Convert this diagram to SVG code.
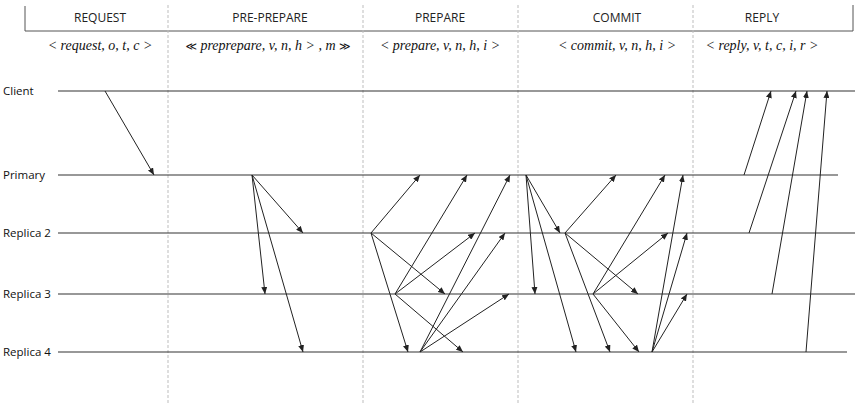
<svg xmlns="http://www.w3.org/2000/svg" width="857" height="409" viewBox="0 0 857 409">
<style>
.hdr{font-family:"Open Sans","Liberation Sans",sans-serif;font-size:12px;fill:#222;text-anchor:middle}
.fm{font-family:"Liberation Serif",serif;font-style:italic;font-size:14px;fill:#111;text-anchor:middle}
.sym{font-family:"DejaVu Sans",sans-serif;font-style:normal;font-size:11px}
.lbl{font-family:"Open Sans","Liberation Sans",sans-serif;font-size:11.5px;fill:#111}
.tl{stroke:#333;stroke-width:1.2;fill:none}
.div{stroke:#bdbdbd;stroke-width:1;stroke-dasharray:3 2;fill:none}
.frame{stroke:#555;stroke-width:1;fill:none}
.msg line{stroke:#222;stroke-width:1;marker-end:url(#ah)}
</style>
<defs>
<marker id="ah" markerUnits="userSpaceOnUse" markerWidth="7" markerHeight="6" refX="7" refY="3" orient="auto">
<path d="M0,0 L7,3 L0,6 z" fill="#222"/>
</marker>
</defs>
<rect width="857" height="409" fill="#fff"/>
<g id="header">
<path class="frame" d="M25,6 V31 H853 V5"/>
<text class="hdr" x="100" y="22">REQUEST</text>
<text class="hdr" x="270" y="22">PRE-PREPARE</text>
<text class="hdr" x="440" y="22">PREPARE</text>
<text class="hdr" x="617" y="22">COMMIT</text>
<text class="hdr" x="762" y="22">REPLY</text>
<text class="fm" x="100" y="50">&lt; request, o, t, c &gt;</text>
<text class="fm" x="268" y="50"><tspan class="sym">≪</tspan> preprepare, v, n, h &gt; , m <tspan class="sym">≫</tspan></text>
<text class="fm" x="440" y="50">&lt; prepare, v, n, h, i &gt;</text>
<text class="fm" x="617" y="50">&lt; commit, v, n, h, i &gt;</text>
<text class="fm" x="762" y="50">&lt; reply, v, t, c, i, r &gt;</text>
</g>
<g id="dividers">
<line class="div" x1="168" y1="5" x2="168" y2="404"/>
<line class="div" x1="363" y1="5" x2="363" y2="404"/>
<line class="div" x1="518" y1="5" x2="518" y2="404"/>
<line class="div" x1="693" y1="5" x2="693" y2="404"/>
</g>
<g id="client"><text class="lbl" x="3" y="95">Client</text><line class="tl" x1="58" y1="91" x2="855" y2="91"/></g>
<g id="primary"><text class="lbl" x="3" y="179">Primary</text><line class="tl" x1="58" y1="175" x2="838" y2="175"/></g>
<g id="replica2"><text class="lbl" x="3" y="237">Replica 2</text><line class="tl" x1="58" y1="233" x2="855" y2="233"/></g>
<g id="replica3"><text class="lbl" x="3" y="298">Replica 3</text><line class="tl" x1="58" y1="294" x2="855" y2="294"/></g>
<g id="replica4"><text class="lbl" x="3" y="356">Replica 4</text><line class="tl" x1="58" y1="352" x2="847" y2="352"/></g>
<g id="connectors" class="msg">
<line x1="105" y1="91" x2="154" y2="175"/>
<line x1="252" y1="175" x2="303" y2="233"/>
<line x1="252" y1="175" x2="265" y2="294"/>
<line x1="252" y1="175" x2="303" y2="352"/>
<line x1="371" y1="233" x2="420" y2="175"/>
<line x1="371" y1="233" x2="445" y2="294"/>
<line x1="371" y1="233" x2="408" y2="352"/>
<line x1="395" y1="294" x2="467" y2="175"/>
<line x1="395" y1="294" x2="475" y2="233"/>
<line x1="395" y1="294" x2="463" y2="352"/>
<line x1="420" y1="352" x2="510" y2="175"/>
<line x1="420" y1="352" x2="505" y2="233"/>
<line x1="420" y1="352" x2="509" y2="294"/>
<line x1="526" y1="175" x2="560" y2="233"/>
<line x1="526" y1="175" x2="535" y2="294"/>
<line x1="526" y1="175" x2="576" y2="352"/>
<line x1="565" y1="233" x2="616" y2="175"/>
<line x1="565" y1="233" x2="638" y2="294"/>
<line x1="565" y1="233" x2="610" y2="352"/>
<line x1="593" y1="294" x2="665" y2="175"/>
<line x1="593" y1="294" x2="668" y2="233"/>
<line x1="593" y1="294" x2="639" y2="352"/>
<line x1="652" y1="352" x2="683" y2="175"/>
<line x1="652" y1="352" x2="687" y2="233"/>
<line x1="652" y1="352" x2="687" y2="294"/>
<line x1="744" y1="175" x2="771" y2="91"/>
<line x1="749" y1="233" x2="796" y2="91"/>
<line x1="772" y1="294" x2="807" y2="91"/>
<line x1="806" y1="352" x2="827" y2="91"/>
</g>
</svg>
